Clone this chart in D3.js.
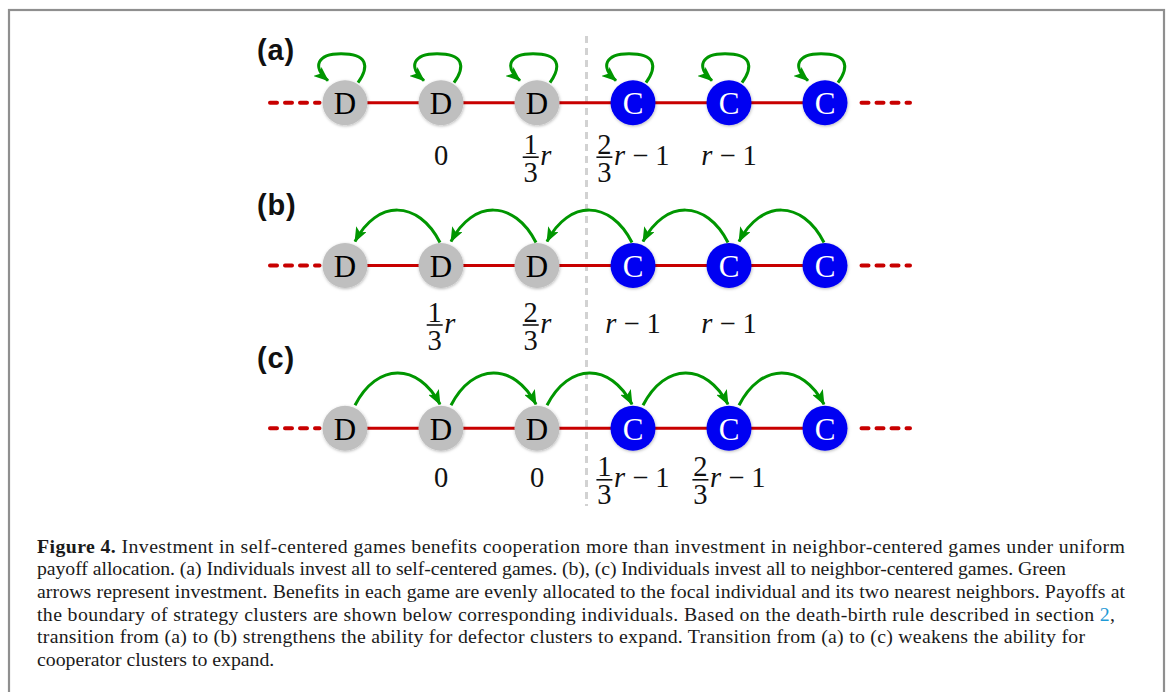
<!DOCTYPE html>
<html>
<head>
<meta charset="utf-8">
<script src="https://cdn.jsdelivr.net/npm/d3@7"></script>
<style>
  html, body { margin: 0; padding: 0; background: #fff; }
  svg { display: block; }
</style>
</head>
<body>
<svg id="fig" width="1171" height="692"></svg>
<script>
// ---- data ----
const nodeIndex = [0, 1, 2, 3, 4, 5];
const strategies = ["D", "D", "D", "C", "C", "C"];
const panels = ["(a)", "(b)", "(c)"];
// where each individual sends its investment: 0 = itself, -1 = left neighbour, +1 = right neighbour
const investShift = [0, -1, 1];
// payoffs shown under individuals: [numerator, denominator, tail]
const payoffsA = [null, [null, null, "0"], ["1", "3", "r"], ["2", "3", "r − 1"], [null, null, "r − 1"], null];
const payoffsB = [null, ["1", "3", "r"], ["2", "3", "r"], [null, null, "r − 1"], [null, null, "r − 1"], null];
const payoffsC = [null, [null, null, "0"], [null, null, "0"], ["1", "3", "r − 1"], ["2", "3", "r − 1"], null];
const payoffs = [payoffsA, payoffsB, payoffsC];

const captionLines = [
  [["Figure 4.", "b"], [" Investment in self-centered games benefits cooperation more than investment in neighbor-centered games under uniform", ""]],
  [["payoff allocation. (a) Individuals invest all to self-centered games. (b), (c) Individuals invest all to neighbor-centered games. Green", ""]],
  [["arrows represent investment. Benefits in each game are evenly allocated to the focal individual and its two nearest neighbors. Payoffs at", ""]],
  [["the boundary of strategy clusters are shown below corresponding individuals. Based on the death-birth rule described in section ", ""], ["2", "link"], [",", ""]],
  [["transition from (a) to (b) strengthens the ability for defector clusters to expand. Transition from (a) to (c) weakens the ability for", ""]],
  [["cooperator clusters to expand.", ""]]
];

// ---- styling ----
const colD = "#bfbfbf", colC = "#0000f2", colLine = "#c80000", colArrow = "#009600";
const mathFont = "'Liberation Serif', 'Times New Roman', serif";
const R = 22.5;

const svg = d3.select("#fig");

// scales
const x = d3.scalePoint().domain(nodeIndex).range([345, 825]);
const y = d3.scalePoint().domain(panels).range([102.7, 428.3]);

// outer frame
svg.append("rect")
  .attr("x", 9).attr("y", 10).attr("width", 1155).attr("height", 700)
  .attr("fill", "none").attr("stroke", "#8f8f8f").attr("stroke-width", 2.2);

const defs = svg.append("defs");
defs.append("marker")
  .attr("id", "head")
  .attr("markerUnits", "userSpaceOnUse")
  .attr("viewBox", "0 0 15 12")
  .attr("markerWidth", 15).attr("markerHeight", 12)
  .attr("refX", 14).attr("refY", 6)
  .attr("orient", "auto")
  .append("path")
  .attr("d", "M0,0 L15,6 L0,12 L3.5,6 Z")
  .attr("fill", colArrow);

const shadow = defs.append("filter").attr("id", "halo")
  .attr("x", "-30%").attr("y", "-30%").attr("width", "160%").attr("height", "160%");
shadow.append("feDropShadow")
  .attr("dx", 0.5).attr("dy", 1).attr("stdDeviation", 1.4)
  .attr("flood-color", "#000").attr("flood-opacity", 0.28);

// boundary between defector and cooperator clusters
const xBoundary = (x(2) + x(3)) / 2 + 1.5;
svg.append("line")
  .attr("x1", xBoundary).attr("x2", xBoundary)
  .attr("y1", 36).attr("y2", 506)
  .attr("stroke", "#d2d2d2").attr("stroke-width", 3)
  .attr("stroke-dasharray", "7 5");

// vertical rise of each panel label above its row
const labelRise = [43, 50.5, 60.5];

panels.forEach((p, pi) => {
  const cy = y(p);
  const g = svg.append("g");

  // panel letter
  g.append("text")
    .attr("x", 257).attr("y", cy - labelRise[pi])
    .attr("font-family", "'Liberation Sans', Arial, sans-serif")
    .attr("font-weight", "bold").attr("font-size", 29)
    .attr("letter-spacing", 0.8)
    .attr("fill", "#111")
    .text(p);

  // lattice: dotted continuation on both sides plus solid links
  g.append("line")
    .attr("x1", x(0) - 75).attr("x2", x(0) - R - 3)
    .attr("y1", cy).attr("y2", cy)
    .attr("stroke", colLine).attr("stroke-width", 4)
    .attr("stroke-linecap", "round").attr("stroke-dasharray", "7 8");
  g.append("line")
    .attr("x1", x(5) + R + 14).attr("x2", x(5) + 85)
    .attr("y1", cy).attr("y2", cy)
    .attr("stroke", colLine).attr("stroke-width", 4)
    .attr("stroke-linecap", "round").attr("stroke-dasharray", "7 8");
  g.append("line")
    .attr("x1", x(0)).attr("x2", x(5))
    .attr("y1", cy).attr("y2", cy)
    .attr("stroke", colLine).attr("stroke-width", 3);

  // individuals
  const nodes = g.selectAll("g.node").data(nodeIndex).join("g")
    .attr("class", "node")
    .attr("transform", i => `translate(${x(i)},${cy})`);
  nodes.append("circle")
    .attr("r", R)
    .attr("fill", i => strategies[i] === "D" ? colD : colC)
    .attr("filter", "url(#halo)");
  nodes.append("text")
    .attr("text-anchor", "middle")
    .attr("y", 11.5)
    .attr("font-family", mathFont)
    .attr("font-size", 31)
    .attr("fill", i => strategies[i] === "D" ? "#000" : "#fff")
    .text(i => strategies[i]);

  // investment arrows
  const shift = investShift[pi];
  nodeIndex.forEach(i => {
    const cx = x(i);
    let d;
    if (shift === 0) {
      d = `M${cx + 13},${cy - 20} C${cx + 25},${cy - 37} ${cx + 22},${cy - 49} ${cx - 4},${cy - 49} ` +
          `C${cx - 28},${cy - 49} ${cx - 33},${cy - 36} ${cx - 17},${cy - 22}`;
    } else {
      const t = i + shift;
      if (t < 0 || t > 5) return;
      const tx = x(t);
      const sx = shift < 0 ? cx - 1 : cx + 10;
      const ex = shift < 0 ? tx + 10 : tx - 1;
      const dir = Math.sign(ex - sx);
      d = `M${sx},${cy - 23} C${sx + dir * 22},${cy - 66} ${ex - dir * 22},${cy - 66} ${ex},${cy - 24}`;
    }
    g.append("path")
      .attr("d", d)
      .attr("fill", "none")
      .attr("stroke", colArrow).attr("stroke-width", 3)
      .attr("marker-end", "url(#head)");
  });
});

// payoff labels: each one is a single text (fraction digits and tail as tspans)
const payoffBase = [62, 67, 59];
const mathSize = 28.5;
panels.forEach((p, pi) => {
  const cy = y(p);
  const base = cy + payoffBase[pi];
  payoffs[pi].forEach((pay, i) => {
    if (!pay) return;
    const [num, den, tail] = pay;
    const barW = 16;
    const label = svg.append("text")
      .attr("font-family", mathFont)
      .attr("font-size", mathSize)
      .attr("fill", "#111");
    const tokens = tail.split(" ");
    const first = label.append("tspan").attr("y", base);
    tokens.forEach((tok, k) => {
      (k === 0 ? first : label.append("tspan"))
        .attr("font-style", tok === "r" ? "italic" : "normal")
        .text((k > 0 ? " " : "") + tok);
    });
    const w = label.node().getComputedTextLength();
    const fracW = num ? barW + 1.5 : 0;
    const x0 = x(i) - (fracW + w) / 2;
    first.attr("x", x0 + fracW);
    if (num) {
      const barY = base - 7.5;
      svg.append("line")
        .attr("x1", x0).attr("x2", x0 + barW)
        .attr("y1", barY).attr("y2", barY)
        .attr("stroke", "#111").attr("stroke-width", 1.6);
      const digitW = mathSize * 0.5;
      label.append("tspan")
        .attr("x", x0 + (barW - digitW) / 2).attr("y", barY - 3.5)
        .attr("font-style", "normal")
        .text(num);
      label.append("tspan")
        .attr("x", x0 + (barW - digitW) / 2).attr("y", barY + 24.5)
        .attr("font-style", "normal")
        .text(den);
    }
  });
});

// caption; full lines are stretched to the right edge of their own line
const capLeft = 37;
const capLineEnds = [1125, 1066, 1125, 1115, 1085, null];
const cap = svg.append("g")
  .attr("font-family", "'Liberation Serif', 'Times New Roman', serif")
  .attr("font-size", 19.8)
  .attr("fill", "#1a1a1a");
captionLines.forEach((parts, li) => {
  const t = cap.append("text")
    .attr("x", capLeft)
    .attr("y", 552.5 + li * 22.7)
    .attr("xml:space", "preserve");
  parts.forEach(([str, kind]) => {
    t.append("tspan")
      .attr("font-weight", kind === "b" ? "bold" : "normal")
      .attr("fill", kind === "link" ? "#1f9ad6" : null)
      .text(str);
  });
  if (capLineEnds[li]) {
    t.attr("textLength", capLineEnds[li] - capLeft).attr("lengthAdjust", "spacing");
  }
});
</script>
</body>
</html>
